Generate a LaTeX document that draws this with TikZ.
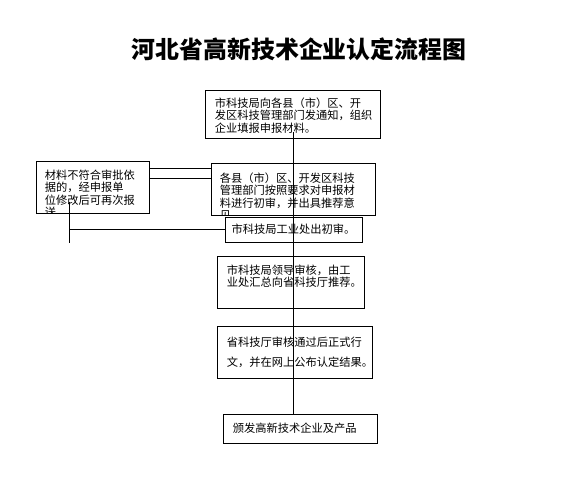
\documentclass[tikz,border=0pt]{standalone}
\usepackage{fontspec}
\setmainfont{Noto Sans CJK SC}
\tikzset{
  stage/.style={draw, thick, rectangle, inner xsep=0.3cm, inner ysep=0.1cm, align=left, font=\fontsize{9.6pt}{10.6pt}\selectfont},
  words/.style={inner sep=0pt, align=left, anchor=north west, font=\fontsize{9.6pt}{10.6pt}\selectfont},
  link/.style={black, line width=0.8pt}
}

\begin{document}
\begin{tikzpicture}[x=0.03cm, y=-0.03cm, thick]
      \useasboundingbox (0,0) rectangle (582,482);
      \node [font=\fontsize{20.4pt}{24pt}\selectfont\bfseries] (title) at (299,49) {河北省高新技术企业认定流程图};
      % boxes
      \node [stage, text width=4.65cm, minimum height=1.44cm] (notice) at (292.5,114) {\rule{0pt}{1.1em}市科技局向各县（市）区、开\\发区科技管理部门发通知，组织\\企业填报申报材料。};
      \node [stage, minimum width=3.39cm, minimum height=1.56cm] (reject) at (92.5,187) {};
      \begin{scope}
        \clip (reject.north west) rectangle (reject.south east);
        \node [words] at ([xshift=0.27cm, yshift=-0.27cm]reject.north west) {材料不符合审批依\\据的，经申报单\\位修改后可再次报\\送};
      \end{scope}
      \node [stage, minimum width=4.92cm, minimum height=1.56cm] (county) at (293,189) {};
      \begin{scope}
        \clip (county.north west) rectangle (county.south east);
        \node [words] at ([xshift=0.27cm, yshift=-0.29cm]county.north west) {各县（市）区、开发区科技\\管理部门按照要求对申报材\\料进行初审，并出具推荐意\\见};
      \end{scope}
      \node [stage, align=center, inner xsep=2pt, minimum width=4.11cm, minimum height=0.75cm] (bureau) at (293.5,229.5) {市科技局工业处出初审。};
      \node [stage, text width=3.81cm, minimum height=1.56cm] (leader) at (290.5,282) {市科技局领导审核，由工\\业处汇总向省科技厅推荐。\\ \mbox{}};
      \node [stage, text width=4.05cm, minimum height=1.56cm, font=\fontsize{9.6pt}{17pt}\selectfont] (province) at (294.5,352) {省科技厅审核通过后正式行\\文，并在网上公布认定结果。};
      \node [stage, text width=4.02cm, minimum height=0.87cm] (issue) at (300,428.5) {颁发高新技术企业及产品};
      % connectors
      \coordinate (spine) at (293,132);
      \coordinate (back) at (69,202);
      \coordinate (backend) at (69,243);
      \draw [link] (spine) -- (issue.north -| spine);
      \draw [link] (reject.east |- 0,168) -- (county.west |- 0,168);
      \draw [link] (reject.east |- 0,178) -- (county.west |- 0,178);
      \draw [link] (back) -- (backend);
      \draw [link] (back |- bureau.west) -- (bureau.west);
\end{tikzpicture}
\end{document}
